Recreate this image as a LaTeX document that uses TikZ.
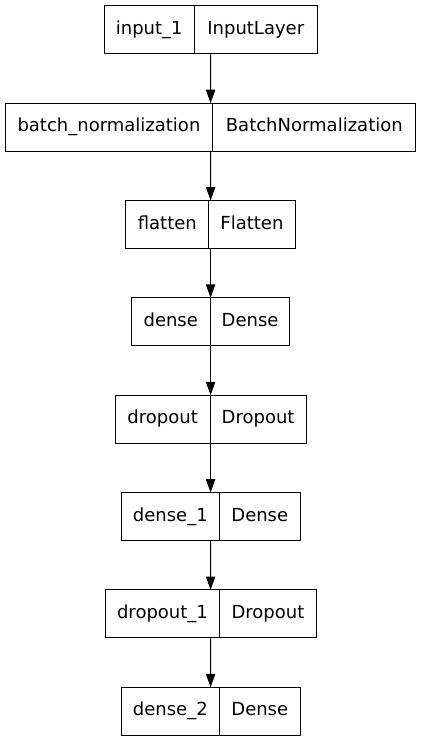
\documentclass[tikz,border=0pt]{standalone}
\usepackage{fontspec}
\setmainfont{DejaVu Sans}
\usetikzlibrary{arrows.meta,fit}

\begin{document}
\begin{tikzpicture}[x=0.75pt, y=-0.75pt, >={Triangle[length=10pt,width=7pt]},
  cell/.style={draw, line width=0.75pt, minimum height=36pt, inner sep=0pt, outer sep=0pt,
    text height=10pt, text depth=3pt, font=\fontsize{13.5}{16}\selectfont},
  layer/.style={inner sep=0pt, outer sep=0pt}]
\useasboundingbox (0,0) rectangle (421,741);

%%%%%%%%%%%% Layers
\foreach \i/\name/\kind/\wl/\wr in {1/input\_1/InputLayer/90.3/122.7,
    2/batch\_normalization/BatchNormalization/207.4/203.3,
    3/flatten/Flatten/82.7/86.6,
    4/dense/Dense/79/79.7,
    5/dropout/Dropout/95/96,
    6/dense\_1/Dense/98.4/80.6,
    7/dropout\_1/Dropout/114.7/96.3,
    8/dense\_2/Dense/98.4/80.6} {
  \pgfmathsetmacro{\ypos}{29.7+97.36*(\i-1)}
  \pgfmathsetmacro{\xdiv}{210.6+(\wl-\wr)/2}
  \node[cell, anchor=east, minimum width=\wl*0.75pt] (n\i) at (\xdiv,\ypos) {\name};
  \node[cell, anchor=west, minimum width=\wr*0.75pt] (k\i) at (\xdiv,\ypos) {\kind};
  \node[layer, fit=(n\i)(k\i)] (L\i) {};
}

%%%%%%%%%%%% Edges
\foreach \i [evaluate=\i as \j using int(\i+1)] in {1,...,7}
  \draw[->, line width=0.75pt] (L\i) -- (L\j);
\end{tikzpicture}
\end{document}
